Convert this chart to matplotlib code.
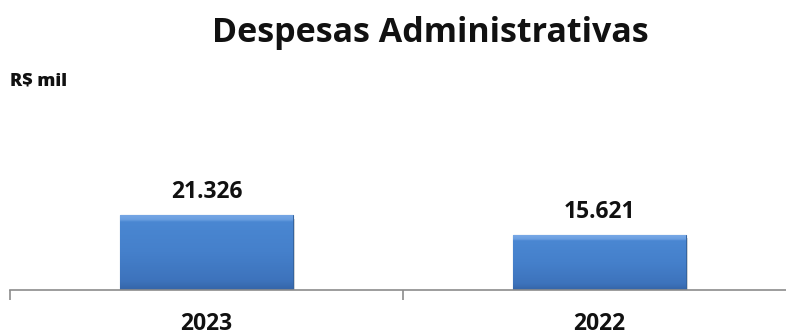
import numpy as np
import matplotlib.pyplot as plt
from matplotlib.colors import LinearSegmentedColormap

# Data
years = ['2023', '2022']
valores = [21326, 15621]
rotulos = ['21.326', '15.621']

plt.rcParams['font.family'] = ['Open Sans', 'DejaVu Sans']

fig = plt.figure(figsize=(7.86, 3.36), dpi=100)
ax = fig.add_axes([10 / 786, 46 / 336, 1.0, 190 / 336])

x = np.arange(len(years))
bars = ax.bar(x, valores, width=0.44, color='#4A85CC', edgecolor='#35649F',
              linewidth=0.8, zorder=3)

# gradient (with a light bevel at the top) + shadow for each bar
cmap = LinearSegmentedColormap.from_list(
    'azul', [(0.0, '#3565A8'), (0.12, '#3D73BC'), (0.5, '#4580CB'),
             (0.9, '#4A87D2'), (0.93, '#6A9EE0'), (1.0, '#78A8E6')])
grad = np.linspace(0, 1, 200).reshape(-1, 1)
for i, b in enumerate(bars):
    x0, w, h = b.get_x(), b.get_width(), b.get_height()
    im = ax.imshow(grad, cmap=cmap, aspect='auto', origin='lower',
                   extent=[x0, x0 + w, 0, h], zorder=4)
    im.set_clip_path(b)
    ax.bar(x0 + w / 2 + 0.006, h, width=w, bottom=-h * 0.05,
           color='#000000', alpha=0.15, zorder=2)
    ax.annotate(rotulos[i], (x0 + w / 2, h), xytext=(0, 12.3),
                textcoords='offset points', ha='center', va='baseline',
                fontsize=16.5, fontweight='bold', color='#111111')

ax.set_xlim(-0.5, 1.5)
ax.set_ylim(0, 54000)
for s in ['top', 'right', 'left']:
    ax.spines[s].set_visible(False)
ax.spines['bottom'].set_color('#8c8c8c')
ax.spines['bottom'].set_linewidth(1.2)
ax.spines['bottom'].set_zorder(5)
ax.set_yticks([])
ax.set_xticks([-0.5, 0.5, 1.5])
ax.set_xticklabels([])
ax.tick_params(axis='x', length=7, width=1.2, color='#8c8c8c', direction='out')
for i, yr in enumerate(years):
    ax.text(i, -40 / 190, yr, transform=ax.get_xaxis_transform(), ha='center',
            va='baseline', fontsize=16.5, fontweight='bold', color='#111111')

fig.text(430 / 786, 1 - 42 / 336, 'Despesas Administrativas', ha='center',
         va='baseline', fontsize=24.5, fontweight='bold', color='#111111')
fig.text(10 / 786, 1 - 85 / 336, 'R$ mil', ha='left', va='baseline',
         fontsize=13, fontweight='heavy', color='#111111')

fig.savefig('out.png', dpi=100)
